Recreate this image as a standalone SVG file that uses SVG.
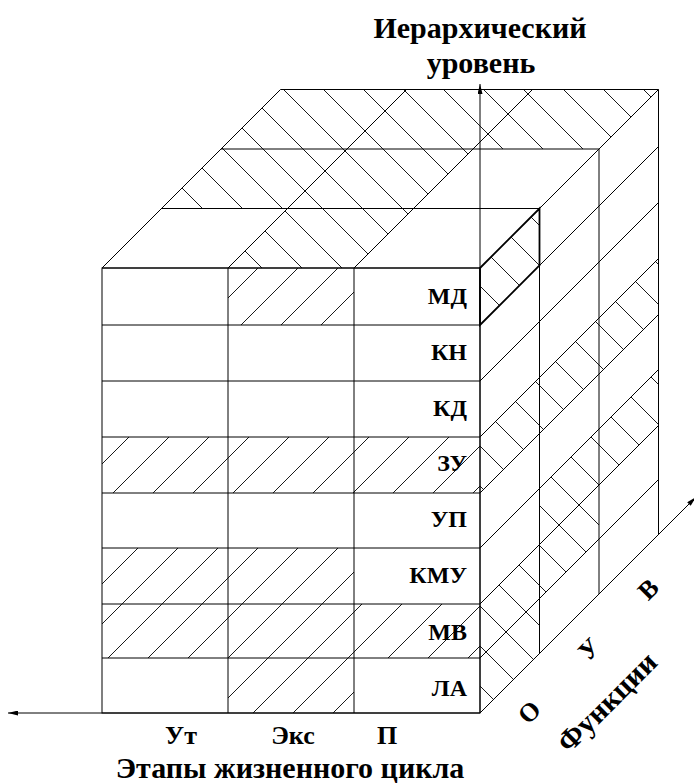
<svg xmlns="http://www.w3.org/2000/svg" width="694" height="783" viewBox="0 0 694 783">
<style>
.ln{stroke:#000;stroke-width:1;fill:none}
.bd{stroke:#000;stroke-width:1.8;fill:none}
.fw{fill:url(#fw);stroke:none}
.bw{fill:url(#bw);stroke:none}
.ax{stroke:#000;stroke-width:1;fill:none;marker-end:url(#arr)}
text{font-family:"Liberation Serif","Times New Roman",serif;font-weight:bold;fill:#000}
.lb{font-size:24px;text-anchor:end}
.tt{font-size:30px;text-anchor:middle}
.fn{font-size:26px;text-anchor:middle}
</style>
<defs>
<pattern id="fw" patternUnits="userSpaceOnUse" x="6" y="0" width="40" height="40">
<path d="M-10,10 L10,-10 M0,40 L40,0 M30,50 L50,30" stroke="#000" stroke-width="0.9"/>
</pattern>
<pattern id="bw" patternUnits="userSpaceOnUse" x="34" y="0" width="40" height="40">
<path d="M-10,30 L10,50 M0,0 L40,40 M30,-10 L50,10" stroke="#000" stroke-width="0.9"/>
</pattern>
<marker id="arr" markerUnits="userSpaceOnUse" markerWidth="10" markerHeight="5" viewBox="0 0 10 5" refX="10" refY="2.5" orient="auto">
<path d="M0,0 L10,2.5 L0,5 z" fill="#000"/>
</marker>
</defs>
<rect width="694" height="783" fill="#fff"/>

<g id="top-face">
<polygon class="bw" points="228,268 354,268 413.5,208.5 287.5,208.5"/>
<polygon class="bw" points="161.5,208.5 413.5,208.5 473,149 221,149"/>
<polygon class="bw" points="221,149 599,149 658.5,89.5 280.5,89.5"/>
<polygon class="ln" points="102,268 480,268 658.5,89.5 280.5,89.5"/>
<path class="ln" d="M161.5,208.5 H539.5 M221,149 H599 M228,268 L406.5,89.5 M354,268 L532.5,89.5"/>
</g>

<g id="side-face">
<polygon class="bw" points="480,268 539.5,208.5 539.5,265.5 480,325"/>
<polygon class="bw" points="480,437 539.5,377.5 539.5,433.5 480,493"/>
<polygon class="bw" points="480,604 539.5,544.5 539.5,653.5 480,713"/>
<polygon class="bw" points="539.5,377.5 599,318 599,374 539.5,433.5"/>
<polygon class="bw" points="539.5,488.5 599,429 599,539 539.5,598.5"/>
<polygon class="bw" points="599,318 658.5,258.5 658.5,314.5 599,374"/>
<polygon class="bw" points="599,429 658.5,369.5 658.5,425.5 599,485"/>
<path class="ln" d="M539.5,208.5 V653.5 M599,149 V594 M658.5,89.5 V534.5"/>
<path class="ln" d="M480,325 L658.5,146.5 M480,381 L658.5,202.5 M480,437 L658.5,258.5 M480,493 L658.5,314.5 M480,548 L658.5,369.5 M480,604 L658.5,425.5 M480,658 L658.5,479.5"/>
<path class="bd" d="M480,268 L539.5,208.5 V265.5 L480,325 Z"/>
</g>

<g id="front-face">
<rect class="fw" x="228" y="268" width="126" height="57"/>
<rect class="fw" x="102" y="437" width="378" height="56"/>
<rect class="fw" x="102" y="548" width="252" height="56"/>
<rect class="fw" x="102" y="604" width="378" height="54"/>
<rect class="fw" x="228" y="658" width="126" height="55"/>
<rect class="ln" x="102" y="268" width="378" height="445"/>
<path class="ln" d="M102,325 H480 M102,381 H480 M102,437 H480 M102,493 H480 M102,548 H480 M102,604 H480 M102,658 H480 M228,268 V713 M354,268 V713"/>
</g>

<g id="axes">
<line class="ax" x1="480" y1="713" x2="480" y2="84"/>
<line class="ax" x1="480" y1="713" x2="8" y2="713"/>
<line class="ax" x1="480" y1="713" x2="696" y2="497"/>
</g>

<g id="row-labels">
<text class="lb" x="467" y="304">МД</text>
<text class="lb" x="467" y="360">КН</text>
<text class="lb" x="467" y="416">КД</text>
<text class="lb" x="467" y="471">ЗУ</text>
<text class="lb" x="467" y="527">УП</text>
<text class="lb" x="467" y="583">КМУ</text>
<text class="lb" x="467" y="640">МВ</text>
<text class="lb" x="467" y="696">ЛА</text>
</g>

<g id="axis-titles">
<text class="tt" x="480" y="38">Иерархический</text>
<text class="tt" x="481" y="73">уровень</text>
<text class="fn" x="181" y="744">Ут</text>
<text class="fn" x="293" y="744">Экс</text>
<text class="fn" x="387" y="744">П</text>
<text class="tt" x="290" y="778">Этапы жизненного цикла</text>
<text class="fn" transform="translate(529,712) rotate(-45)" y="9">О</text>
<text class="fn" transform="translate(589,649) rotate(-45)" y="9">У</text>
<text class="fn" transform="translate(648,589) rotate(-45)" y="9">В</text>
<text class="tt" transform="translate(607,702) rotate(-45)" y="10">Функции</text>
</g>
</svg>
